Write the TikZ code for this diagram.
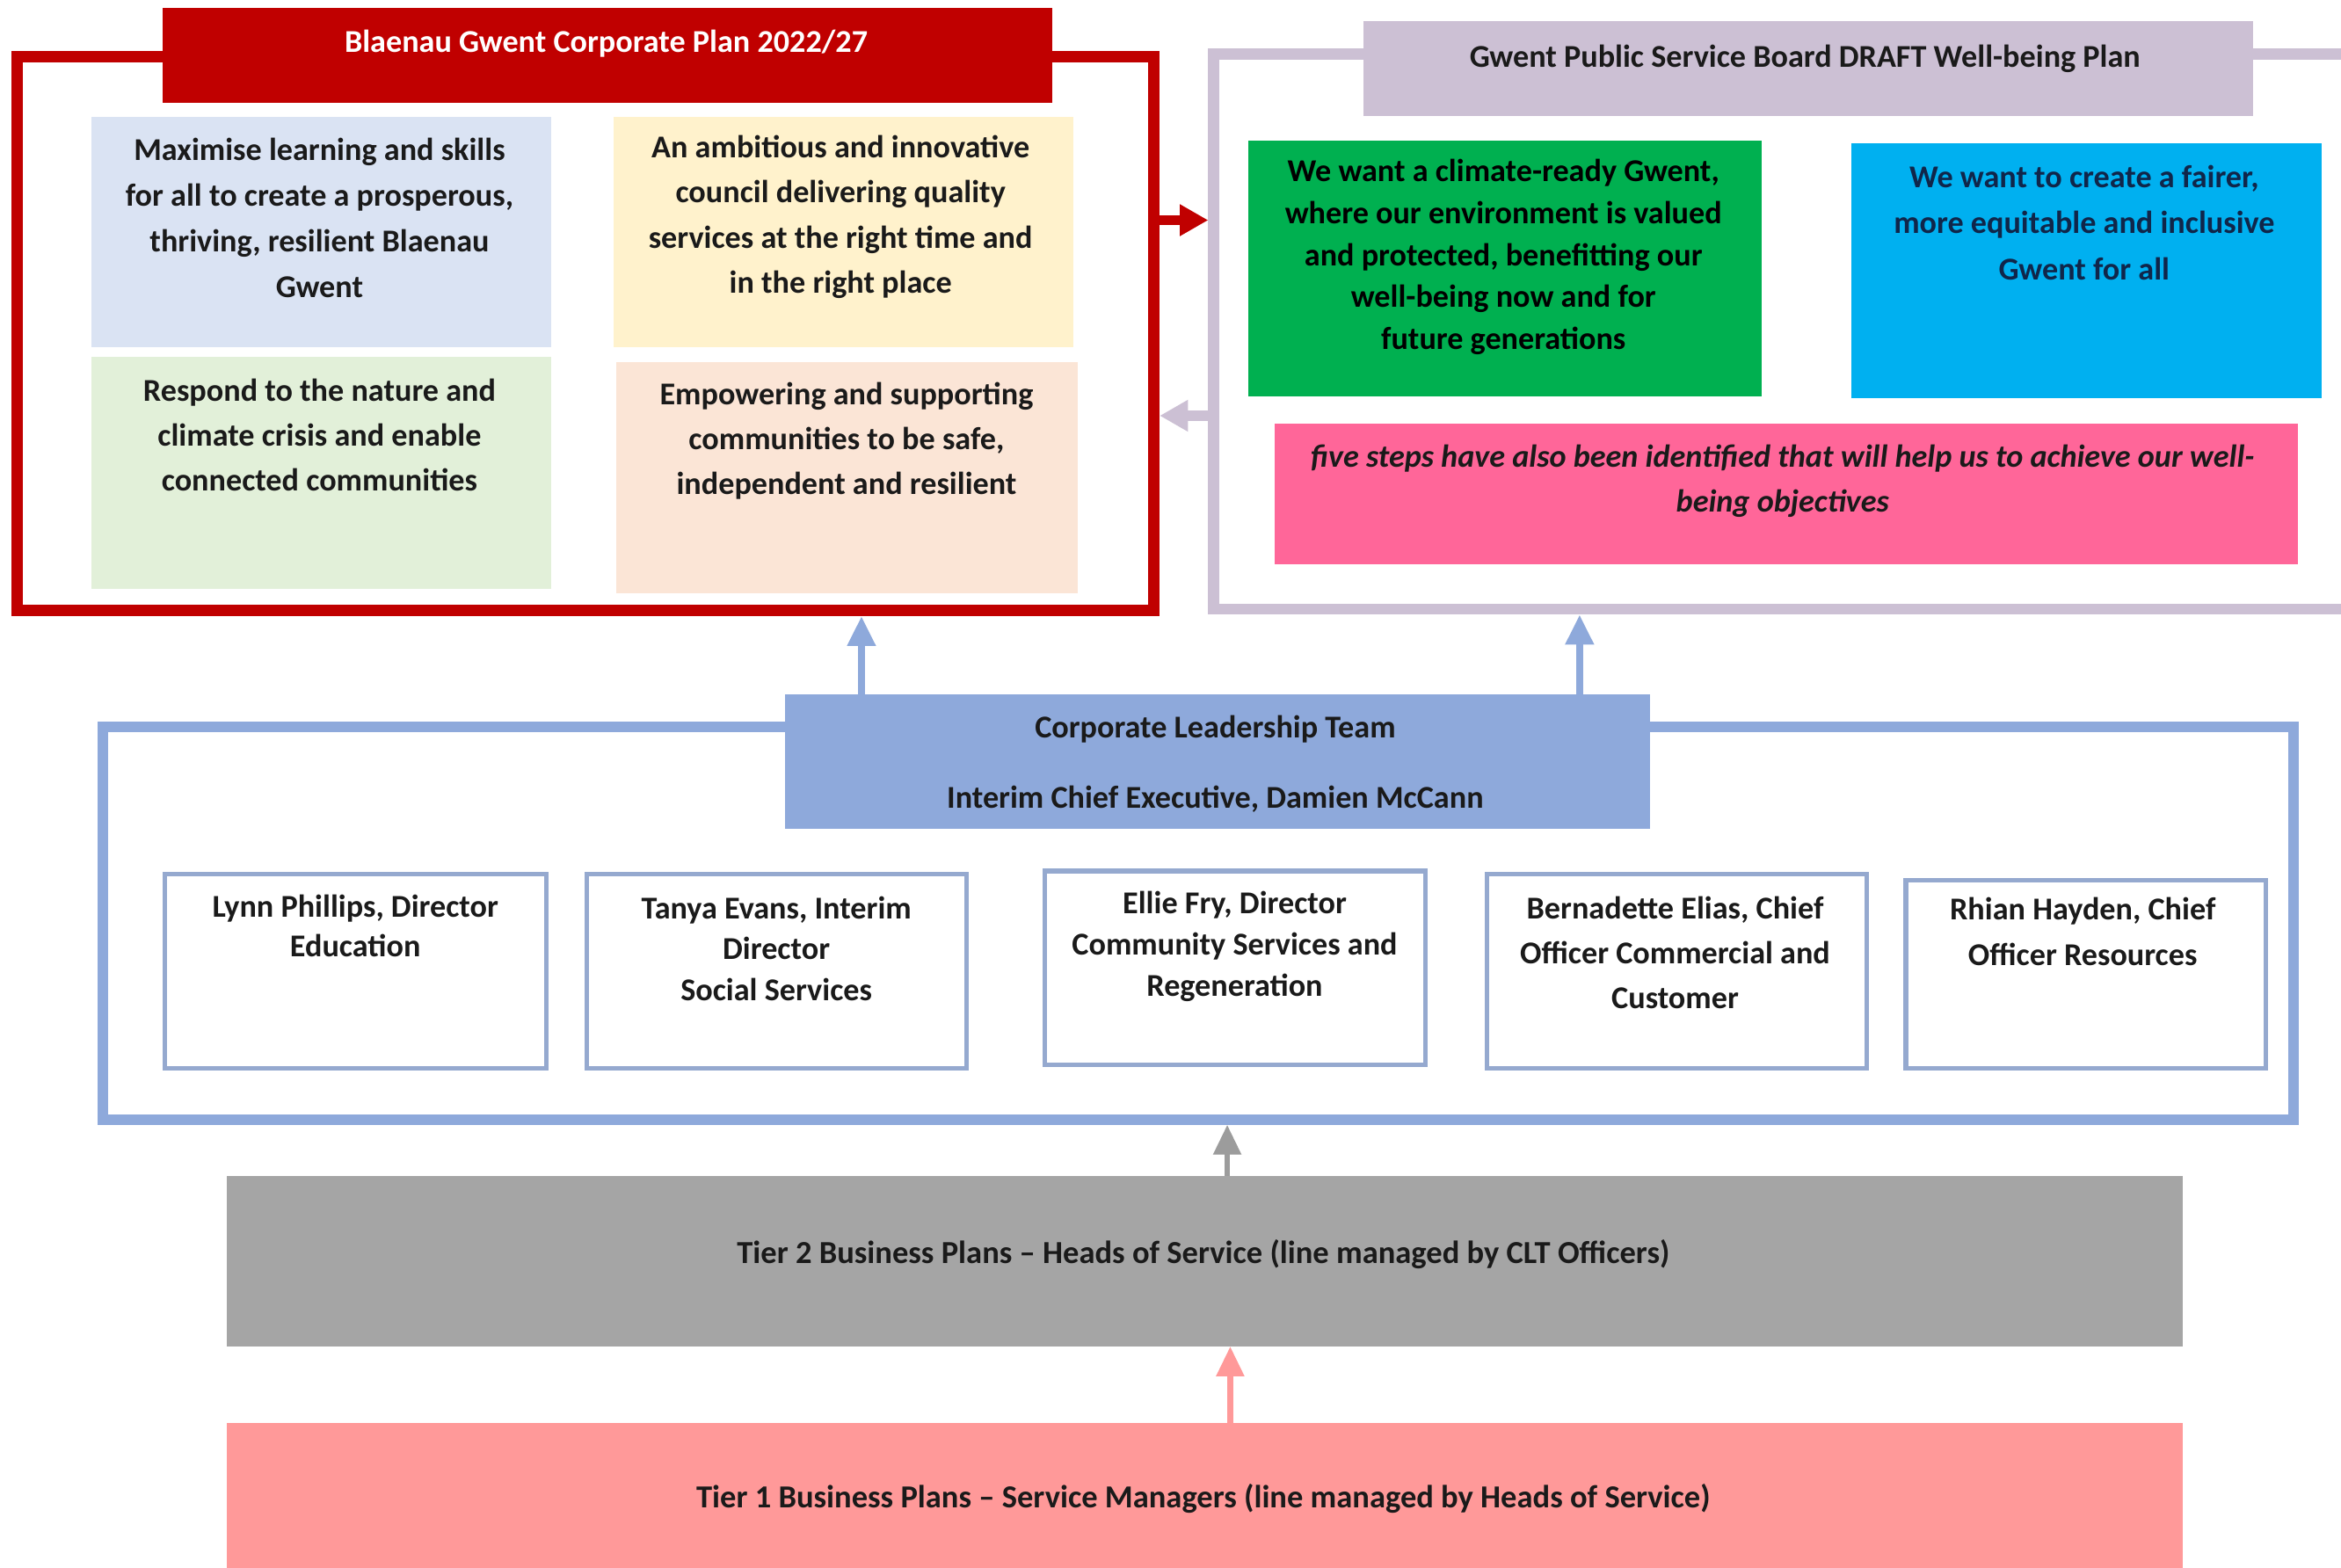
\documentclass[tikz,border=0pt]{standalone}
\usepackage{fontspec}
\setmainfont{Carlito}
\usetikzlibrary{arrows.meta,calc}
\definecolor{redc}{HTML}{C00000}
\definecolor{purc}{HTML}{CCC0D4}
\definecolor{cltc}{HTML}{8EA9DB}
\definecolor{dirc}{HTML}{95A9CF}
\definecolor{lbc}{HTML}{DAE3F3}
\definecolor{yelc}{HTML}{FFF2CC}
\definecolor{lgc}{HTML}{E2F0D9}
\definecolor{pchc}{HTML}{FBE5D6}
\definecolor{grnc}{HTML}{00B050}
\definecolor{bluc}{HTML}{00B0F0}
\definecolor{pnkc}{HTML}{FF6699}
\definecolor{t2c}{HTML}{A5A5A5}
\definecolor{t2a}{HTML}{9C9C9C}
\definecolor{t1c}{HTML}{FF9999}
\definecolor{txtc}{HTML}{1A1A1A}
\definecolor{navyc}{HTML}{10264A}
\newcommand\myfs[2]{\fontsize{#1}{#2}\selectfont}
\begin{document}
\begin{tikzpicture}[x=1pt,y=-1pt,
  fbox/.style={rectangle, draw=none, inner sep=0pt, outer sep=0pt},
  frm/.style={rectangle, fill=none, line width=7.5pt, outer sep=3.75pt, inner sep=0pt},
  dirbox/.style={rectangle, draw=dirc, fill=white, line width=3pt, inner sep=0pt, outer sep=1.5pt},
  tx/.style={align=center, text=txtc, anchor=north, inner sep=0pt, outer sep=0pt},
  arr/.style={-{Triangle[length=19pt,width=20pt]}},
  arrs/.style={-{Triangle[length=20pt,width=18pt]}}
]
\useasboundingbox (0,0) rectangle (1568,1050.4);
\clip (0,0) rectangle (1568,1050.4);
\fill[white] (0,0) rectangle (1568,1050.4);

% frames
\node[frm, draw=redc, minimum width=761.6pt, minimum height=371pt] (redf) at (392.2,223.5) {};
\node[frm, draw=purc, minimum width=827pt, minimum height=372pt] (purf) at (1226.5,222) {};
\node[frm, draw=cltc, line width=7pt, outer sep=3.5pt, minimum width=1467pt, minimum height=263pt] (cltf) at (802.5,618.5) {};

% corporate plan
\node[fbox, fill=redc, minimum width=596pt, minimum height=63.6pt] (redt) at (407,37.2) {};
\node[tx, anchor=center, text=white, font=\myfs{21.3}{25}\bfseries] (redtT) at (406,29.5) {Blaenau Gwent Corporate Plan 2022/27};

\node[fbox, fill=lbc, minimum width=308pt, minimum height=154pt] (lb) at (215,155.5) {};
\node[tx, font=\myfs{21.3}{30.7}\bfseries] (lbT) at (214,92.5) {Maximise learning and skills\\for all to create a prosperous,\\thriving, resilient Blaenau\\Gwent};
\node[fbox, fill=yelc, minimum width=308pt, minimum height=154pt] (yel) at (565,155.5) {};
\node[tx, font=\myfs{21.3}{30.3}\bfseries] (yelT) at (563,90.5) {An ambitious and innovative\\council delivering quality\\services at the right time and\\in the right place};
\node[fbox, fill=lgc, minimum width=308pt, minimum height=155.5pt] (lg) at (215,316.75) {};
\node[tx, font=\myfs{21.3}{30}\bfseries] (lgT) at (214,254) {Respond to the nature and\\climate crisis and enable\\connected communities};
\node[fbox, fill=pchc, minimum width=309pt, minimum height=155pt] (pch) at (567.5,320) {};
\node[tx, font=\myfs{21.3}{30}\bfseries] (pchT) at (567,256) {Empowering and supporting\\communities to be safe,\\independent and resilient};

% well-being plan
\node[fbox, fill=purc, minimum width=596pt, minimum height=64pt] (purt) at (1211,46) {};
\node[tx, anchor=center, font=\myfs{21.3}{25}\bfseries] (purtT) at (1209,39.5) {Gwent Public Service Board DRAFT Well-being Plan};
\node[fbox, fill=grnc, minimum width=344pt, minimum height=171.5pt] (grn) at (1008,179.75) {};
\node[tx, text=black, font=\myfs{21.3}{28.2}\bfseries] (grnT) at (1007,106.5) {We want a climate-ready Gwent,\\where our environment is valued\\and protected, benefitting our\\well-being now and for\\future generations};
\node[fbox, fill=bluc, minimum width=315pt, minimum height=171pt] (blu) at (1397.5,181.5) {};
\node[tx, text=navyc, font=\myfs{21.3}{31}\bfseries] (bluT) at (1396,110.5) {We want to create a fairer,\\more equitable and inclusive\\Gwent for all};
\node[fbox, fill=pnkc, minimum width=685pt, minimum height=94pt] (pnk) at (1196.5,331) {};
\node[tx, font=\myfs{21.3}{30}\bfseries\itshape] (pnkT) at (1194,298) {five steps have also been identified that will help us to achieve our well-\\being objectives};

% corporate leadership team
\node[fbox, fill=cltc, minimum width=579pt, minimum height=90pt] (clt) at (815.5,510) {};
\node[tx, font=\myfs{21.3}{47}\bfseries] (cltT) at (814,479.5) {Corporate Leadership Team\\Interim Chief Executive, Damien McCann};

\node[dirbox, minimum width=255.5pt, minimum height=130pt] (d1) at (238.25,650.5) {};
\node[tx, font=\myfs{21.3}{26.5}\bfseries] (d1T) at (238,599.5) {Lynn Phillips, Director\\Education};
\node[dirbox, minimum width=254.5pt, minimum height=130pt] (d2) at (520.25,650.5) {};
\node[tx, font=\myfs{21.3}{27.5}\bfseries] (d2T) at (520,600.5) {Tanya Evans, Interim\\Director\\Social Services};
\node[dirbox, minimum width=254.5pt, minimum height=130pt] (d3) at (827.25,648.5) {};
\node[tx, font=\myfs{21.3}{27.7}\bfseries] (d3T) at (827,597) {Ellie Fry, Director\\Community Services and\\Regeneration};
\node[dirbox, minimum width=254.5pt, minimum height=130pt] (d4) at (1123.25,650.5) {};
\node[tx, font=\myfs{21.3}{30}\bfseries] (d4T) at (1122,600.5) {Bernadette Elias, Chief\\Officer Commercial and\\Customer};
\node[dirbox, minimum width=241pt, minimum height=126pt] (d5) at (1397,652.5) {};
\node[tx, font=\myfs{21.3}{30.6}\bfseries] (d5T) at (1395,601) {Rhian Hayden, Chief\\Officer Resources};

% tiers
\node[fbox, fill=t2c, minimum width=1310pt, minimum height=114.4pt] (t2) at (807,844.8) {};
\node[tx, anchor=center, font=\myfs{21.5}{25}\bfseries] (t2T) at (806,840) {Tier 2 Business Plans -- Heads of Service (line managed by CLT Officers)};
\node[fbox, fill=t1c, minimum width=1310pt, minimum height=102pt] (t1) at (807,1004) {};
\node[tx, anchor=center, font=\myfs{21.5}{25}\bfseries] (t1T) at (806,1004) {Tier 1 Business Plans -- Service Managers (line managed by Heads of Service)};

% connectors
\coordinate (xa) at (577,0);
\coordinate (xb) at (1058,0);
\coordinate (xc) at (822,0);
\coordinate (xd) at (824,0);
\coordinate (ya) at (0,147.5);
\coordinate (yb) at (0,278.5);
\draw[arr, draw=redc, fill=redc, line width=7pt] (redf.east |- ya) -- (purf.west |- ya);
\draw[arr, draw=purc, fill=purc, line width=6.5pt] (purf.west |- yb) -- (redf.east |- yb);
\draw[arrs, draw=cltc, fill=cltc, line width=5pt] (clt.north -| xa) -- (redf.south -| xa);
\draw[arrs, draw=cltc, fill=cltc, line width=5pt] (clt.north -| xb) -- (purf.south -| xb);
\draw[arrs, draw=t2a, fill=t2a, line width=4pt] (t2.north -| xc) -- (cltf.south -| xc);
\draw[arrs, draw=t1c, fill=t1c, line width=4pt] (t1.north -| xd) -- (t2.south -| xd);
\end{tikzpicture}
\end{document}
